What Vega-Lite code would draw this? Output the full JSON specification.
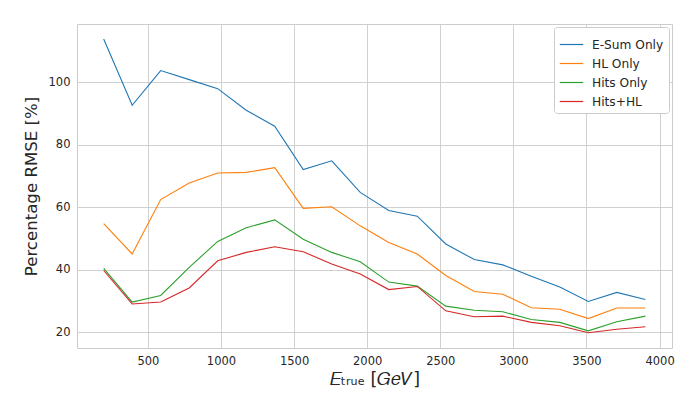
{
  "$schema": "https://vega.github.io/schema/vega-lite/v6.json",
  "autosize": {"type": "none"},
  "padding": {"left": 77, "top": 24, "right": 22, "bottom": 48},
  "width": 595,
  "height": 324,
  "background": "white",
  "data": {
    "values": [
      {"E": 197.5, "s": "E-Sum Only", "v": 113.9},
      {"E": 392.5, "s": "E-Sum Only", "v": 92.7},
      {"E": 587.5, "s": "E-Sum Only", "v": 103.8},
      {"E": 782.5, "s": "E-Sum Only", "v": 100.9},
      {"E": 977.5, "s": "E-Sum Only", "v": 98.0},
      {"E": 1172.5, "s": "E-Sum Only", "v": 91.1},
      {"E": 1367.5, "s": "E-Sum Only", "v": 86.0},
      {"E": 1562.5, "s": "E-Sum Only", "v": 72.1},
      {"E": 1757.5, "s": "E-Sum Only", "v": 74.9},
      {"E": 1952.5, "s": "E-Sum Only", "v": 64.8},
      {"E": 2147.5, "s": "E-Sum Only", "v": 59.0},
      {"E": 2342.5, "s": "E-Sum Only", "v": 57.2},
      {"E": 2537.5, "s": "E-Sum Only", "v": 48.3},
      {"E": 2732.5, "s": "E-Sum Only", "v": 43.3},
      {"E": 2927.5, "s": "E-Sum Only", "v": 41.6},
      {"E": 3122.5, "s": "E-Sum Only", "v": 38.0},
      {"E": 3317.5, "s": "E-Sum Only", "v": 34.5},
      {"E": 3512.5, "s": "E-Sum Only", "v": 29.9},
      {"E": 3707.5, "s": "E-Sum Only", "v": 32.8},
      {"E": 3902.5, "s": "E-Sum Only", "v": 30.5},

      {"E": 197.5, "s": "HL Only", "v": 54.8},
      {"E": 392.5, "s": "HL Only", "v": 45.1},
      {"E": 587.5, "s": "HL Only", "v": 62.5},
      {"E": 782.5, "s": "HL Only", "v": 67.8},
      {"E": 977.5, "s": "HL Only", "v": 71.0},
      {"E": 1172.5, "s": "HL Only", "v": 71.2},
      {"E": 1367.5, "s": "HL Only", "v": 72.7},
      {"E": 1562.5, "s": "HL Only", "v": 59.7},
      {"E": 1757.5, "s": "HL Only", "v": 60.2},
      {"E": 1952.5, "s": "HL Only", "v": 54.1},
      {"E": 2147.5, "s": "HL Only", "v": 48.8},
      {"E": 2342.5, "s": "HL Only", "v": 45.1},
      {"E": 2537.5, "s": "HL Only", "v": 38.2},
      {"E": 2732.5, "s": "HL Only", "v": 33.1},
      {"E": 2927.5, "s": "HL Only", "v": 32.2},
      {"E": 3122.5, "s": "HL Only", "v": 27.9},
      {"E": 3317.5, "s": "HL Only", "v": 27.4},
      {"E": 3512.5, "s": "HL Only", "v": 24.4},
      {"E": 3707.5, "s": "HL Only", "v": 27.8},
      {"E": 3902.5, "s": "HL Only", "v": 27.8},

      {"E": 197.5, "s": "Hits Only", "v": 40.5},
      {"E": 392.5, "s": "Hits Only", "v": 29.7},
      {"E": 587.5, "s": "Hits Only", "v": 31.8},
      {"E": 782.5, "s": "Hits Only", "v": 40.8},
      {"E": 977.5, "s": "Hits Only", "v": 49.1},
      {"E": 1172.5, "s": "Hits Only", "v": 53.5},
      {"E": 1367.5, "s": "Hits Only", "v": 56.0},
      {"E": 1562.5, "s": "Hits Only", "v": 49.8},
      {"E": 1757.5, "s": "Hits Only", "v": 45.6},
      {"E": 1952.5, "s": "Hits Only", "v": 42.6},
      {"E": 2147.5, "s": "Hits Only", "v": 36.1},
      {"E": 2342.5, "s": "Hits Only", "v": 34.8},
      {"E": 2537.5, "s": "Hits Only", "v": 28.4},
      {"E": 2732.5, "s": "Hits Only", "v": 27.1},
      {"E": 2927.5, "s": "Hits Only", "v": 26.6},
      {"E": 3122.5, "s": "Hits Only", "v": 24.1},
      {"E": 3317.5, "s": "Hits Only", "v": 23.2},
      {"E": 3512.5, "s": "Hits Only", "v": 20.5},
      {"E": 3707.5, "s": "Hits Only", "v": 23.4},
      {"E": 3902.5, "s": "Hits Only", "v": 25.2},

      {"E": 197.5, "s": "Hits+HL", "v": 39.8},
      {"E": 392.5, "s": "Hits+HL", "v": 29.1},
      {"E": 587.5, "s": "Hits+HL", "v": 29.7},
      {"E": 782.5, "s": "Hits+HL", "v": 34.2},
      {"E": 977.5, "s": "Hits+HL", "v": 42.9},
      {"E": 1172.5, "s": "Hits+HL", "v": 45.6},
      {"E": 1367.5, "s": "Hits+HL", "v": 47.4},
      {"E": 1562.5, "s": "Hits+HL", "v": 45.8},
      {"E": 1757.5, "s": "Hits+HL", "v": 41.9},
      {"E": 1952.5, "s": "Hits+HL", "v": 38.7},
      {"E": 2147.5, "s": "Hits+HL", "v": 33.7},
      {"E": 2342.5, "s": "Hits+HL", "v": 34.7},
      {"E": 2537.5, "s": "Hits+HL", "v": 26.9},
      {"E": 2732.5, "s": "Hits+HL", "v": 25.0},
      {"E": 2927.5, "s": "Hits+HL", "v": 25.2},
      {"E": 3122.5, "s": "Hits+HL", "v": 23.2},
      {"E": 3317.5, "s": "Hits+HL", "v": 22.1},
      {"E": 3512.5, "s": "Hits+HL", "v": 19.9},
      {"E": 3707.5, "s": "Hits+HL", "v": 21.0},
      {"E": 3902.5, "s": "Hits+HL", "v": 21.8}
    ]
  },
  "mark": {"type": "line", "strokeWidth": 1.1, "clip": true},
  "encoding": {
    "x": {
      "field": "E", "type": "quantitative",
      "scale": {"domain": [15, 4085], "nice": false, "zero": false},
      "axis": {"values": [500, 1000, 1500, 2000, 2500, 3000, 3500, 4000], "format": "d", "title": "𝐸ₜᵣᵤₑ [𝐺𝑒𝑉]", "titleFontSize": 17.5, "titlePadding": 4}
    },
    "y": {
      "field": "v", "type": "quantitative",
      "scale": {"domain": [15, 118.7], "nice": false, "zero": false},
      "axis": {"values": [20, 40, 60, 80, 100], "title": "Percentage RMSE [%]", "titleFontSize": 16.6, "titlePadding": 9}
    },
    "color": {
      "field": "s", "type": "nominal",
      "sort": ["E-Sum Only", "HL Only", "Hits Only", "Hits+HL"],
      "scale": {"domain": ["E-Sum Only", "HL Only", "Hits Only", "Hits+HL"], "range": ["#1f77b4", "#ff7f0e", "#2ca02c", "#d62728"]},
      "legend": {
        "title": null, "orient": "top-right", "offset": 3,
        "symbolType": "stroke", "symbolSize": 550, "symbolStrokeWidth": 1.2,
        "labelFontSize": 12.2, "labelColor": "#262626", "labelFont": "DejaVu Sans", "labelOffset": 8,
        "fillColor": "white", "strokeColor": "#cccccc", "cornerRadius": 3,
        "padding": 5, "rowPadding": -4.5
      }
    }
  },
  "config": {
    "font": "DejaVu Sans",
    "view": {"stroke": "#cccccc", "strokeWidth": 1},
    "axis": {
      "grid": true, "gridColor": "#cccccc", "gridWidth": 0.9,
      "domain": false, "ticks": false,
      "labelFont": "DejaVu Sans", "labelFontSize": 11.5, "labelColor": "#262626", "labelPadding": 7,
      "titleFont": "DejaVu Sans", "titleFontWeight": "normal", "titleColor": "#262626"
    }
  }
}
